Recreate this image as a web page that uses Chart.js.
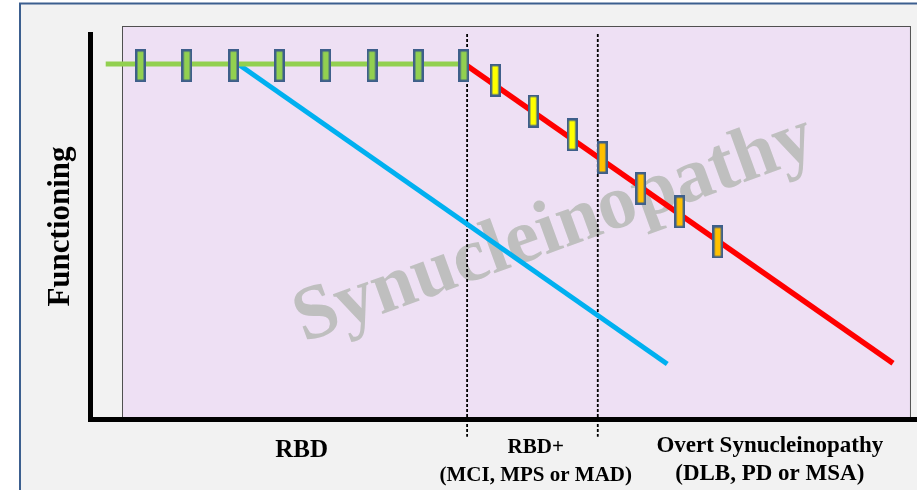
<!DOCTYPE html>
<html lang="en">
<head>
<meta charset="UTF-8">
<title>Synucleinopathy</title>
<script src="https://cdn.jsdelivr.net/npm/chart.js@4.4.1/dist/chart.umd.min.js"></script>
<style>
  html, body { margin:0; padding:0; background:#fff; }
  #wrap { width:917px; height:490px; }
</style>
</head>
<body>
<div id="wrap"><canvas id="cvs" width="917" height="490"></canvas></div>
<script>
// data (x = time 0-100, y = functioning 0-100)
const stableX = [6.1, 11.7, 17.35, 22.9, 28.5, 34.1, 39.7, 45.2];
const stableY = [91.8, 91.8, 91.8, 91.8, 91.8, 91.8, 91.8, 91.8];
const rbdPlusX = [49.0, 53.6, 58.3];
const rbdPlusY = [88.0, 80.0, 73.8];
const overtX = [61.95, 66.6, 71.3, 75.9];
const overtY = [67.9, 59.9, 53.8, 46.0];
const greenLineX = [1.9, 45.3], greenLineY = [92.2, 92.2];
const blueLineX = [17.9, 69.8], blueLineY = [92.2, 14.3];
const redLineX = [45.3, 97.1], redLineY = [92.2, 14.5];
const phaseBounds = [45.6, 61.4];
const phaseLabelX = [25.6, 53.9, 82.2];
const phaseLabels = [['RBD'], ['RBD+', '(MCI, MPS or MAD)'], ['Overt Synucleinopathy', '(DLB, PD or MSA)']];

(() => {
  const SERIF = '"Liberation Serif", "Times New Roman", serif';
  const pts = (xs, ys) => xs.map((x, i) => ({ x, y: ys[i] }));

  // 막대 모양 마커
  const mark = fill => {
    const c = document.createElement('canvas');
    c.width = 11; c.height = 33;
    const g = c.getContext('2d');
    g.fillStyle = fill; g.strokeStyle = '#3e5f8a'; g.lineWidth = 2.5;
    g.fillRect(1.25, 1.25, 8.5, 30.5);
    g.strokeRect(1.25, 1.25, 8.5, 30.5);
    return c;
  };

  const markers = (xs, ys, fill) => ({
    data: pts(xs, ys), showLine:false, pointStyle: mark(fill), pointRadius:5, order:0
  });
  const line = (xs, ys, color, w) => ({
    data: pts(xs, ys), showLine:true, borderColor: color, borderWidth: w, pointRadius:0, order:1
  });
  const divider = x => ({
    data: [{ x, y: 100 }, { x, y: -4.6 }], showLine:true, borderColor:'#000', borderWidth:1.8,
    borderDash:[3, 2], pointRadius:0, clip:false, order:2
  });

  const deco = {
    id: 'deco',
    beforeDraw(c) {
      const { ctx, scales: { x, y } } = c;
      ctx.save();
      ctx.fillStyle = '#fff'; ctx.fillRect(0, 0, c.width, c.height);
      ctx.fillStyle = '#f2f2f2'; ctx.fillRect(20, 3, c.width, c.height);
      ctx.strokeStyle = '#3c5f8f'; ctx.lineWidth = 2;
      ctx.strokeRect(20, 3.5, c.width + 20, c.height + 20);
      // 보라색 영역
      const l = x.getPixelForValue(3.87), r = x.getPixelForValue(99.15);
      const t = y.getPixelForValue(102.1), b = y.getPixelForValue(0);
      ctx.fillStyle = '#eee0f4'; ctx.fillRect(l, t, r - l, b - t);
      ctx.strokeStyle = '#505050'; ctx.lineWidth = 1;
      ctx.strokeRect(Math.round(l) + 0.5, Math.round(t) + 0.5, r - l, b - t);
      // 워터마크
      ctx.translate(x.getPixelForValue(57.0), y.getPixelForValue(44.2));
      ctx.rotate(-20 * Math.PI / 180);
      ctx.font = 'bold 77px ' + SERIF;
      ctx.fillStyle = '#bfbfbf';
      ctx.textAlign = 'center'; ctx.textBaseline = 'alphabetic';
      ctx.fillText('Synucleinopathy', 0, 0);
      ctx.restore();
    },
    afterDraw(c) {
      const { ctx, chartArea, scales: { x } } = c;
      const b = chartArea.bottom;
      const styles = [
        { size:25, base:[38] },
        { size:21, base:[34, 62] },
        { size:23, base:[33, 61] }
      ];
      ctx.save();
      ctx.fillStyle = '#000'; ctx.textAlign = 'center'; ctx.textBaseline = 'alphabetic';
      phaseLabels.forEach((lines, i) => {
        ctx.font = 'bold ' + styles[i].size + 'px ' + SERIF;
        lines.forEach((s, j) => ctx.fillText(s, x.getPixelForValue(phaseLabelX[i]), b + styles[i].base[j]));
      });
      ctx.restore();
    }
  };

  new Chart(document.getElementById('cvs'), {
    type: 'scatter',
    data: {
      datasets: [
        markers(stableX, stableY, '#92d050'),
        markers(rbdPlusX, rbdPlusY, '#ffff00'),
        markers(overtX, overtY, '#ffc000'),
        line(greenLineX, greenLineY, '#92d050', 5),
        line(blueLineX, blueLineY, '#00b0f0', 5),
        line(redLineX, redLineY, '#ff0000', 5.5),
        divider(phaseBounds[0]),
        divider(phaseBounds[1])
      ]
    },
    options: {
      responsive: false,
      animation: false,
      events: [],
      layout: { autoPadding:false, padding: { left:20, top:34, right:0, bottom:71 } },
      plugins: { legend: { display:false }, tooltip: { enabled:false } },
      scales: {
        x: {
          type:'linear', min:0, max:100,
          grid: { display:false, drawTicks:false },
          ticks: { display:false },
          border: { display:true, color:'#000', width:5 }
        },
        y: {
          type:'linear', min:0, max:100,
          grid: { display:false, drawTicks:false },
          ticks: { display:false },
          border: { display:true, color:'#000', width:5 },
          title: {
            display:true, text:'Functioning', color:'#000',
            font: { family: SERIF, size:31, weight:'bold', lineHeight:1.2 },
            padding: { top:22.4, bottom:10.4 }
          }
        }
      }
    },
    plugins: [deco]
  });
})();
</script>
</body>
</html>
